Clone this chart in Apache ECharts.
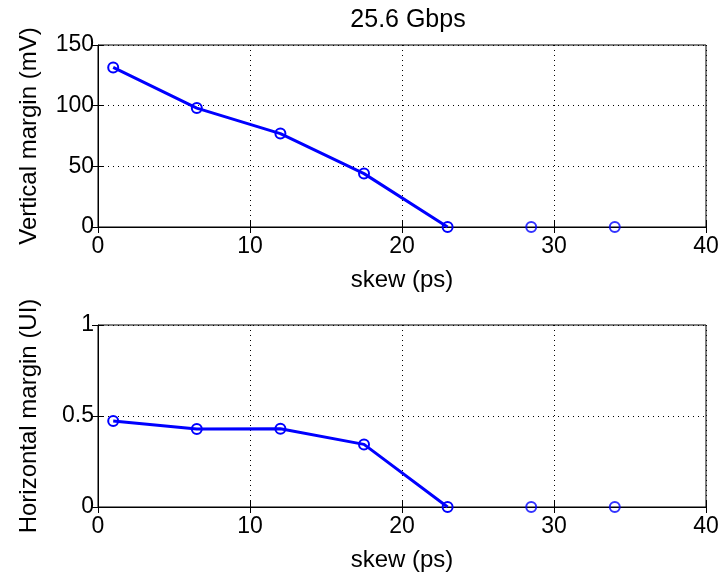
<!DOCTYPE html>
<html>
<head>
<meta charset="utf-8">
<script src="https://cdn.jsdelivr.net/npm/echarts@6/dist/echarts.min.js"></script>
<style>html,body{margin:0;padding:0;background:#fff}#c{width:724px;height:575px}</style>
</head>
<body>
<div id="c"></div>
<script>
// ---- data ----
const skew = [1, 6.5, 12, 17.5, 23, 28.5, 34];
const verticalMargin = [131.5, 98, 77, 44, 0, 0, 0];
const horizontalMargin = [0.473, 0.428, 0.43, 0.344, 0, 0, 0];
const lineCount = 5; // points joined by the line (the rest are markers only)
const titleText = '25.6 Gbps';
const xName = 'skew (ps)';
const yNameTop = 'Vertical margin (mV)';
const yNameBottom = 'Horizontal margin (UI)';

const FONT = '"Liberation Sans", Arial, sans-serif';
const FS_TICK = 23;
const FS_NAME = 24;
const FS_TITLE = 25;
const BLUE = '#0000ff';

function pairs(ys, from, to) {
  const out = [];
  for (let i = from; i < to; i++) out.push([skew[i], ys[i]]);
  return out;
}

const grids = [
  {left: 98, top: 45, width: 608, height: 182, show: true, borderColor: '#000', borderWidth: 1, backgroundColor: '#fff'},
  {left: 98, top: 325, width: 608, height: 182, show: true, borderColor: '#000', borderWidth: 1, backgroundColor: '#fff'}
];

function xAxes(gi) {
  return [
    {type: 'value', gridIndex: gi, min: 0, max: 40, interval: 10, position: 'bottom',
     name: xName, nameLocation: 'middle', nameGap: 41,
     nameTextStyle: {fontFamily: FONT, fontSize: FS_NAME, color: '#000'},
     axisLine: {show: true, lineStyle: {color: '#000', width: 1}},
     axisTick: {show: true, inside: true, length: 6, lineStyle: {color: '#000'}},
     axisLabel: {fontFamily: FONT, fontSize: FS_TICK, color: '#000', margin: 8},
     splitLine: {show: true, lineStyle: {color: '#000', type: [1, 4], width: 1}}},
    {type: 'value', gridIndex: gi, min: 0, max: 40, interval: 10, position: 'top',
     axisLine: {show: false}, axisTick: {show: true, inside: true, length: 6, lineStyle: {color: '#000'}},
     axisLabel: {show: false}, splitLine: {show: false}}
  ];
}
function yAxes(gi, max, interval, name, nameGap) {
  return [
    {type: 'value', gridIndex: gi, min: 0, max: max, interval: interval, position: 'left',
     name: name, nameLocation: 'middle', nameRotate: 90, nameGap: nameGap,
     nameTextStyle: {fontFamily: FONT, fontSize: FS_NAME, color: '#000'},
     axisLine: {show: true, lineStyle: {color: '#000', width: 1}},
     axisTick: {show: true, inside: true, length: 6, lineStyle: {color: '#000'}},
     axisLabel: {fontFamily: FONT, fontSize: FS_TICK, color: '#000', margin: 4},
     splitLine: {show: true, lineStyle: {color: '#000', type: [1, 4], width: 1}}},
    {type: 'value', gridIndex: gi, min: 0, max: max, interval: interval, position: 'right',
     axisLine: {show: false}, axisTick: {show: true, inside: true, length: 6, lineStyle: {color: '#000'}},
     axisLabel: {show: false}, splitLine: {show: false}}
  ];
}

const markerStyle = {color: 'rgba(0,0,0,0)', borderColor: BLUE, borderWidth: 2};
function seriesFor(ys, xi, yi) {
  return [
    {type: 'line', xAxisIndex: xi, yAxisIndex: yi, data: pairs(ys, 0, lineCount),
     symbol: 'circle', symbolSize: 10, showAllSymbol: true,
     lineStyle: {color: BLUE, width: 3}, itemStyle: markerStyle, z: 5, animation: false},
    {type: 'scatter', xAxisIndex: xi, yAxisIndex: yi, data: pairs(ys, lineCount, skew.length),
     symbol: 'circle', symbolSize: 10, itemStyle: markerStyle, z: 6, animation: false}
  ];
}

const chart = echarts.init(document.getElementById('c'), null, {renderer: 'canvas'});
chart.setOption({
  backgroundColor: '#fff',
  animation: false,
  title: {text: titleText, left: 403, top: 3, textAlign: 'center',
          textStyle: {fontFamily: FONT, fontSize: FS_TITLE, fontWeight: 'normal', color: '#000'}},
  grid: grids,
  xAxis: [...xAxes(0), ...xAxes(1)],
  yAxis: [...yAxes(0, 150, 50, yNameTop, 57), ...yAxes(1, 1, 0.5, yNameBottom, 57)],
  series: [...seriesFor(verticalMargin, 0, 0), ...seriesFor(horizontalMargin, 2, 2)]
});
</script>
</body>
</html>
